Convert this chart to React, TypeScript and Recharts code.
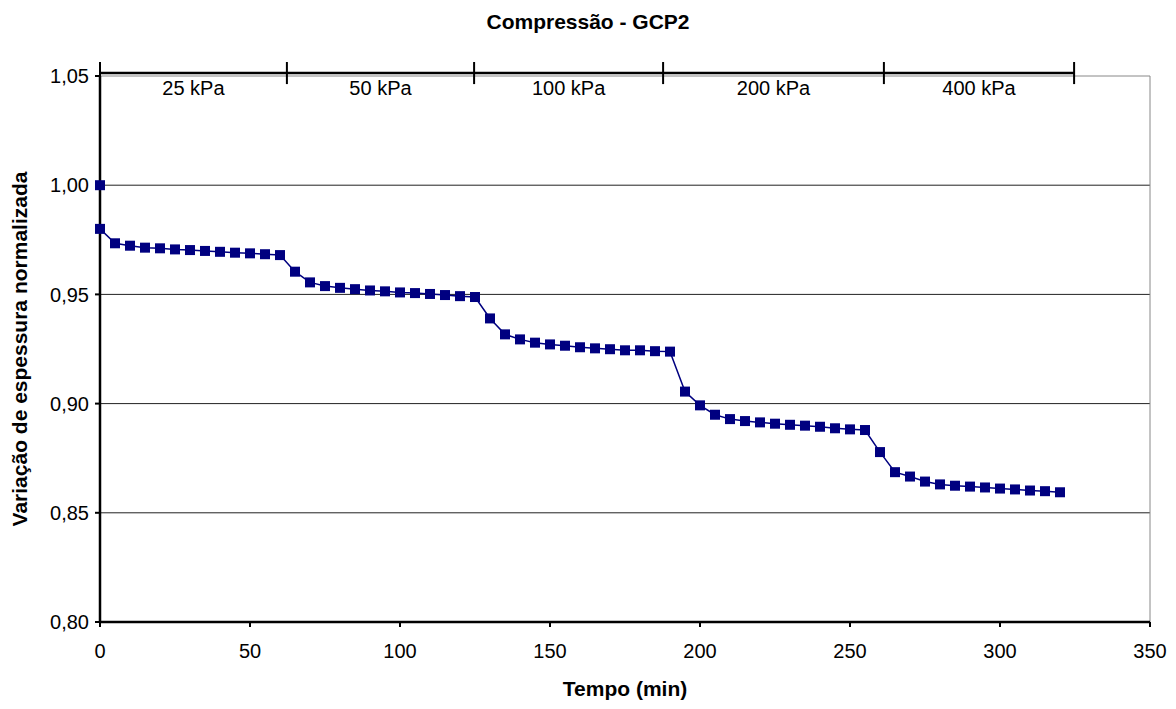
import { LineChart, Line, XAxis, YAxis, CartesianGrid, ReferenceLine } from "recharts";

// tempo (min) e espessura normalizada
const times = [
  0, 0, 5, 10, 15, 20, 25, 30, 35, 40, 45, 50, 55, 60, 65, 70, 75, 80, 85, 90, 95, 100, 105, 110,
  115, 120, 125, 130, 135, 140, 145, 150, 155, 160, 165, 170, 175, 180, 185, 190, 195, 200, 205,
  210, 215, 220, 225, 230, 235, 240, 245, 250, 255, 260, 265, 270, 275, 280, 285, 290, 295, 300,
  305, 310, 315, 320,
];
const thickness = [
  1.0, 0.98, 0.9734, 0.9723, 0.9714, 0.9711, 0.9706, 0.9703, 0.9699, 0.9695, 0.9691, 0.9688,
  0.9684, 0.968, 0.9604, 0.9555, 0.9538, 0.953, 0.9524, 0.9518, 0.9514, 0.9509, 0.9506, 0.9502,
  0.9497, 0.9492, 0.9488, 0.939, 0.9317, 0.9294, 0.9279, 0.9271, 0.9265, 0.9258, 0.9253, 0.9249,
  0.9244, 0.9244, 0.924, 0.9238, 0.9055, 0.8992, 0.8949, 0.8929, 0.892, 0.8914, 0.8908, 0.8903,
  0.8899, 0.8894, 0.8887, 0.8882, 0.8879, 0.8778, 0.8686, 0.8666, 0.8643, 0.863, 0.8624, 0.862,
  0.8616, 0.8611, 0.8607, 0.8602, 0.8599, 0.8594,
];

// estágios de carga
const stageBounds = [0, 62.3, 124.7, 187.7, 261.3, 324.7];
const stageLabels = ["25 kPa", "50 kPa", "100 kPa", "200 kPa", "400 kPa"];

const xTicks = [0, 50, 100, 150, 200, 250, 300, 350];
const yTicks = [0.8, 0.85, 0.9, 0.95, 1.0, 1.05];

const data = times.map((t, i) => ({ t, v: thickness[i] }));

const BAR_Y = 1.0514;
const NAVY = "#000080";
const FONT = "'Liberation Sans', Arial, sans-serif";

const SquareDot = (props: any) => {
  const { cx, cy, index } = props;
  if (cx == null || cy == null) return null;
  return <rect key={index} x={cx - 5} y={cy - 5} width={10} height={10} fill={NAVY} />;
};

export default function App() {
  const tickStyle = { fill: "#000", fontSize: 20, fontFamily: FONT };
  return (
    <div style={{ position: "absolute", left: 0, top: 0, width: 1176, height: 709, background: "#fff", fontFamily: FONT }}>
      <div style={{ position: "absolute", top: 10, left: 0, width: 1176, textAlign: "center", fontWeight: "bold", fontSize: 21 }}>
        Compressão - GCP2
      </div>
      <div
        style={{
          position: "absolute",
          left: 20,
          top: 349,
          transform: "translate(-50%, -50%) rotate(-90deg)",
          whiteSpace: "nowrap",
          fontWeight: "bold",
          fontSize: 21,
        }}
      >
        Variação de espessura normalizada
      </div>
      <div style={{ position: "absolute", top: 677, left: 100, width: 1050, textAlign: "center", fontWeight: "bold", fontSize: 21 }}>
        Tempo (min)
      </div>
      <LineChart width={1176} height={709} data={data} margin={{ top: 76, right: 26, bottom: 57, left: 40 }}>
        <CartesianGrid horizontal vertical={false} horizontalValues={[0.85, 0.9, 0.95, 1.0]} stroke="#222" strokeWidth={1} />
        <XAxis
          dataKey="t"
          type="number"
          domain={[0, 350]}
          ticks={xTicks}
          height={30}
          stroke="#000"
          axisLine={{ stroke: "#000", strokeWidth: 2.5 }}
          tickLine={{ stroke: "#000", strokeWidth: 2 }}
          tickSize={5}
          tickMargin={17}
          tick={tickStyle}
        />
        <YAxis
          type="number"
          domain={[0.8, 1.05]}
          ticks={yTicks}
          width={60}
          allowDataOverflow
          axisLine={{ stroke: "#000", strokeWidth: 2.5 }}
          tickLine={{ stroke: "#000", strokeWidth: 2 }}
          tickSize={5}
          tickMargin={6}
          tick={tickStyle}
          tickFormatter={(v: number) => v.toFixed(2).replace(".", ",")}
        />
        <ReferenceLine y={1.05} stroke="#888" strokeWidth={1} />
        <ReferenceLine x={350} stroke="#888" strokeWidth={1} />
        {stageLabels.map((label, i) => (
          <ReferenceLine
            key={"seg" + i}
            segment={[
              { x: stageBounds[i], y: BAR_Y },
              { x: stageBounds[i + 1], y: BAR_Y },
            ]}
            stroke="#000"
            strokeWidth={2.5}
            ifOverflow="visible"
            label={{ value: label, position: "bottom", offset: 8, fill: "#000", fontSize: 20, fontFamily: FONT }}
          />
        ))}
        {stageBounds.map((b, i) => (
          <ReferenceLine
            key={"tick" + i}
            segment={[
              { x: b, y: 1.0564 },
              { x: b, y: 1.0463 },
            ]}
            stroke="#000"
            strokeWidth={2}
            ifOverflow="visible"
          />
        ))}
        <Line
          type="linear"
          dataKey="v"
          stroke={NAVY}
          strokeWidth={1.5}
          dot={<SquareDot />}
          activeDot={false}
          isAnimationActive={false}
        />
      </LineChart>
    </div>
  );
}
